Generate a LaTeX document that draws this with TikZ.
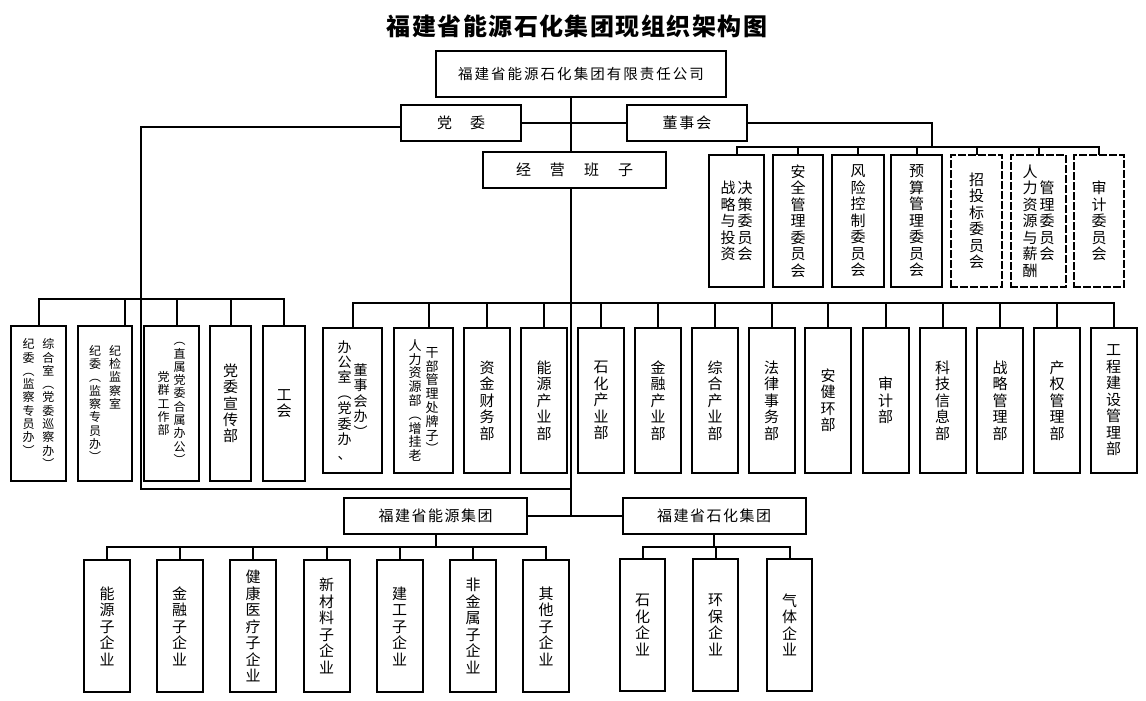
\documentclass[tikz,border=0pt]{standalone}
\usepackage{fontspec}
\setmainfont{Noto Sans CJK SC}
\makeatletter
\newcommand\vcol[1]{$\vcenter{\@tfor\vch:=#1\do{\hbox to 1em{\hss\vch\hss}}}$}
\newcommand\vtopcol[1]{\vtop{\@tfor\vch:=#1\do{\hbox to 1em{\hss\vch\hss}}}}
\makeatother

\begin{document}
\begin{tikzpicture}[x=1pt, y=-1pt, line width=2pt, line cap=rect,
	box/.style={draw, line width=2pt, inner sep=0pt, align=center, font=\fontsize{15}{16.5}\selectfont},
	dashbox/.style={box, dash pattern=on 6pt off 4pt},
	wide/.style={box, minimum width=183, minimum height=36},
	party/.style={box, minimum height=155, font=\fontsize{12}{13.3}\selectfont},
	dept/.style={box, minimum width=46, minimum height=145},
	comm/.style={minimum height=132},
	sub/.style={box, minimum width=46, minimum height=132}]
	\useasboundingbox (0,0) rectangle (1146,701);
	\node[font=\fontsize{24}{28}\selectfont\bfseries\addfontfeatures{LetterSpace=6}] (title) at (577,26) {福建省能源石化集团现组织架构图};
	\node[box, minimum width=290, minimum height=46, font=\fontsize{14.5}{17}\selectfont\addfontfeatures{LetterSpace=14}] (gs) at (581,74) {福建省能源石化集团有限责任公司};
	\node[box, minimum width=120, minimum height=36] (dw) at (461,123) {党\hspace{18pt}委};
	\node[box, minimum width=120, minimum height=36, font=\fontsize{15}{16.5}\selectfont\addfontfeatures{LetterSpace=13}] (ds) at (687,123) {董事会};
	\node[wide] (jy) at (574.5,170) {经\hspace{19pt}营\hspace{19pt}班\hspace{19pt}子};

	\node[box, comm, minimum width=55] (c1) at (736.5,221) {\vcol{战略与投资}\kern2pt\vcol{决策委员会}};
	\node[box, comm, minimum width=50] (c2) at (798,221) {\vcol{安全管理委员会}};
	\node[box, comm, minimum width=52] (c3) at (858,221) {\vcol{风险控制委员会}};
	\node[box, comm, minimum width=51] (c4) at (916.5,221) {\vcol{预算管理委员会}};
	\node[dashbox, comm, minimum width=51] (c5) at (976.5,221) {\vcol{招投标委员会}};
	\node[dashbox, comm, minimum width=55] (c6) at (1038.5,221) {\vcol{人力资源与薪酬}\kern2pt\vcol{管理委员会}};
	\node[dashbox, comm, minimum width=50] (c7) at (1099,221) {\vcol{审计委员会}};

	\node[party, minimum width=55] (p1) at (38.5,403.5) {\vtopcol{纪委︵监察专员办︶}\kern8pt\vtopcol{综合室︵党委巡察办︶}};
	\node[party, minimum width=54] (p2) at (105,403.5) {\vtopcol{纪委︵监察专员办︶}\kern8pt\vtopcol{纪检监察室}};
	\node[party, minimum width=55] (p3) at (171.5,403.5) {\vcol{党群工作部}\kern4pt\vcol{︵直属党委合属办公︶}};
	\node[party, minimum width=41, font=\fontsize{15}{16.3}\selectfont] (p4) at (230.5,403.5) {\vcol{党委宣传部}};
	\node[party, minimum width=42, font=\fontsize{15}{16.3}\selectfont] (p5) at (284,403.5) {\vcol{工会}};

	\node[dept, minimum width=59, font=\fontsize{14}{15.4}\selectfont] (d1) at (352.5,400.5) {\vcol{办公室︵党委办、}\kern2pt\vcol{董事会办︶}};
	\node[dept, minimum width=59, font=\fontsize{13}{13.8}\selectfont] (d2) at (423.5,400.5) {\vcol{人力资源部︵增挂老}\kern4pt\vcol{干部管理处牌子︶}};
	\node[dept] (d3) at (487,400.5) {\vcol{资金财务部}};
	\node[dept] (d4) at (544,400.5) {\vcol{能源产业部}};
	\node[dept] (d5) at (601,400.5) {\vcol{石化产业部}};
	\node[dept] (d6) at (658,400.5) {\vcol{金融产业部}};
	\node[dept] (d7) at (715,400.5) {\vcol{综合产业部}};
	\node[dept] (d8) at (771.5,400.5) {\vcol{法律事务部}};
	\node[dept] (d9) at (828,400.5) {\vcol{安健环部}};
	\node[dept] (d10) at (885.5,400.5) {\vcol{审计部}};
	\node[dept] (d11) at (942.5,400.5) {\vcol{科技信息部}};
	\node[dept] (d12) at (1000,400.5) {\vcol{战略管理部}};
	\node[dept] (d13) at (1057,400.5) {\vcol{产权管理部}};
	\node[dept] (d14) at (1113.5,400.5) {\vcol{工程建设管理部}};

	\node[wide] (ny) at (435.5,516) {\addfontfeatures{LetterSpace=10}福建省能源集团};
	\node[wide] (sh) at (714,516) {\addfontfeatures{LetterSpace=10}福建省石化集团};

	\node[sub] (e1) at (107,626) {\vcol{能源子企业}};
	\node[sub] (e2) at (179.5,626) {\vcol{金融子企业}};
	\node[sub] (e3) at (253,626) {\vcol{健康医疗子企业}};
	\node[sub] (e4) at (326.5,626) {\vcol{新材料子企业}};
	\node[sub] (e5) at (399.5,626) {\vcol{建工子企业}};
	\node[sub] (e6) at (473,626) {\vcol{非金属子企业}};
	\node[sub] (e7) at (546,626) {\vcol{其他子企业}};
	\node[sub, minimum width=45] (s1) at (642.5,625) {\vcol{石化企业}};
	\node[sub, minimum width=45] (s2) at (715.5,625) {\vcol{环保企业}};
	\node[sub, minimum width=45] (s3) at (789.5,625) {\vcol{气体企业}};

	\coordinate (hub) at (571,516);
	\coordinate (pb) at (141,489);
	\coordinate (lbus) at (0,299);
	\coordinate (mbus) at (0,303);
	\coordinate (cbus) at (932,147);
	\coordinate (ebus) at (0,547);

	\draw (gs.south -| hub) -- (jy.north -| hub);
	\draw (jy.south -| hub) -- (hub);
	\draw (dw.east) -- (ds.west);
	\draw ([yshift=-4pt]dw.west) -| (pb) -- (pb -| hub);
	\draw (ds.east) -| (cbus);
	\draw (c1.north |- cbus) -- (c7.north |- cbus);
	\draw (c1.north) -- (c1.north |- cbus) (c2.north) -- (c2.north |- cbus) (c3.north) -- (c3.north |- cbus) (c4.north) -- (c4.north |- cbus)
		(c5.north) -- (c5.north |- cbus) (c6.north) -- (c6.north |- cbus) (c7.north) -- (c7.north |- cbus);
	\draw (p1.north |- lbus) -- (p5.north |- lbus);
	\draw (p1.north) -- (p1.north |- lbus) ([xshift=20pt]p2.north) -- ([xshift=20pt]p2.north |- lbus) ([xshift=5pt]p3.north) -- ([xshift=5pt]p3.north |- lbus)
		(p4.north) -- (p4.north |- lbus) (p5.north) -- (p5.north |- lbus);
	\draw (d1.north |- mbus) -- (d14.north |- mbus);
	\draw (d1.north) -- (d1.north |- mbus) ([xshift=5pt]d2.north) -- ([xshift=5pt]d2.north |- mbus) (d3.north) -- (d3.north |- mbus) (d4.north) -- (d4.north |- mbus)
		(d5.north) -- (d5.north |- mbus) (d6.north) -- (d6.north |- mbus) (d7.north) -- (d7.north |- mbus) (d8.north) -- (d8.north |- mbus)
		(d9.north) -- (d9.north |- mbus) (d10.north) -- (d10.north |- mbus) (d11.north) -- (d11.north |- mbus) (d12.north) -- (d12.north |- mbus)
		(d13.north) -- (d13.north |- mbus) (d14.north) -- (d14.north |- mbus);
	\draw (ny.east) -- (sh.west);
	\draw (ny.south) -- (ny.south |- ebus);
	\draw (e1.north |- ebus) -- (e7.north |- ebus);
	\draw (e1.north) -- (e1.north |- ebus) (e2.north) -- (e2.north |- ebus) (e3.north) -- (e3.north |- ebus) (e4.north) -- (e4.north |- ebus)
		(e5.north) -- (e5.north |- ebus) (e6.north) -- (e6.north |- ebus) (e7.north) -- (e7.north |- ebus);
	\draw (sh.south) -- (sh.south |- ebus);
	\draw (s1.north |- ebus) -- (s3.north |- ebus);
	\draw (s1.north) -- (s1.north |- ebus) (s2.north) -- (s2.north |- ebus) (s3.north) -- (s3.north |- ebus);
\end{tikzpicture}
\end{document}
